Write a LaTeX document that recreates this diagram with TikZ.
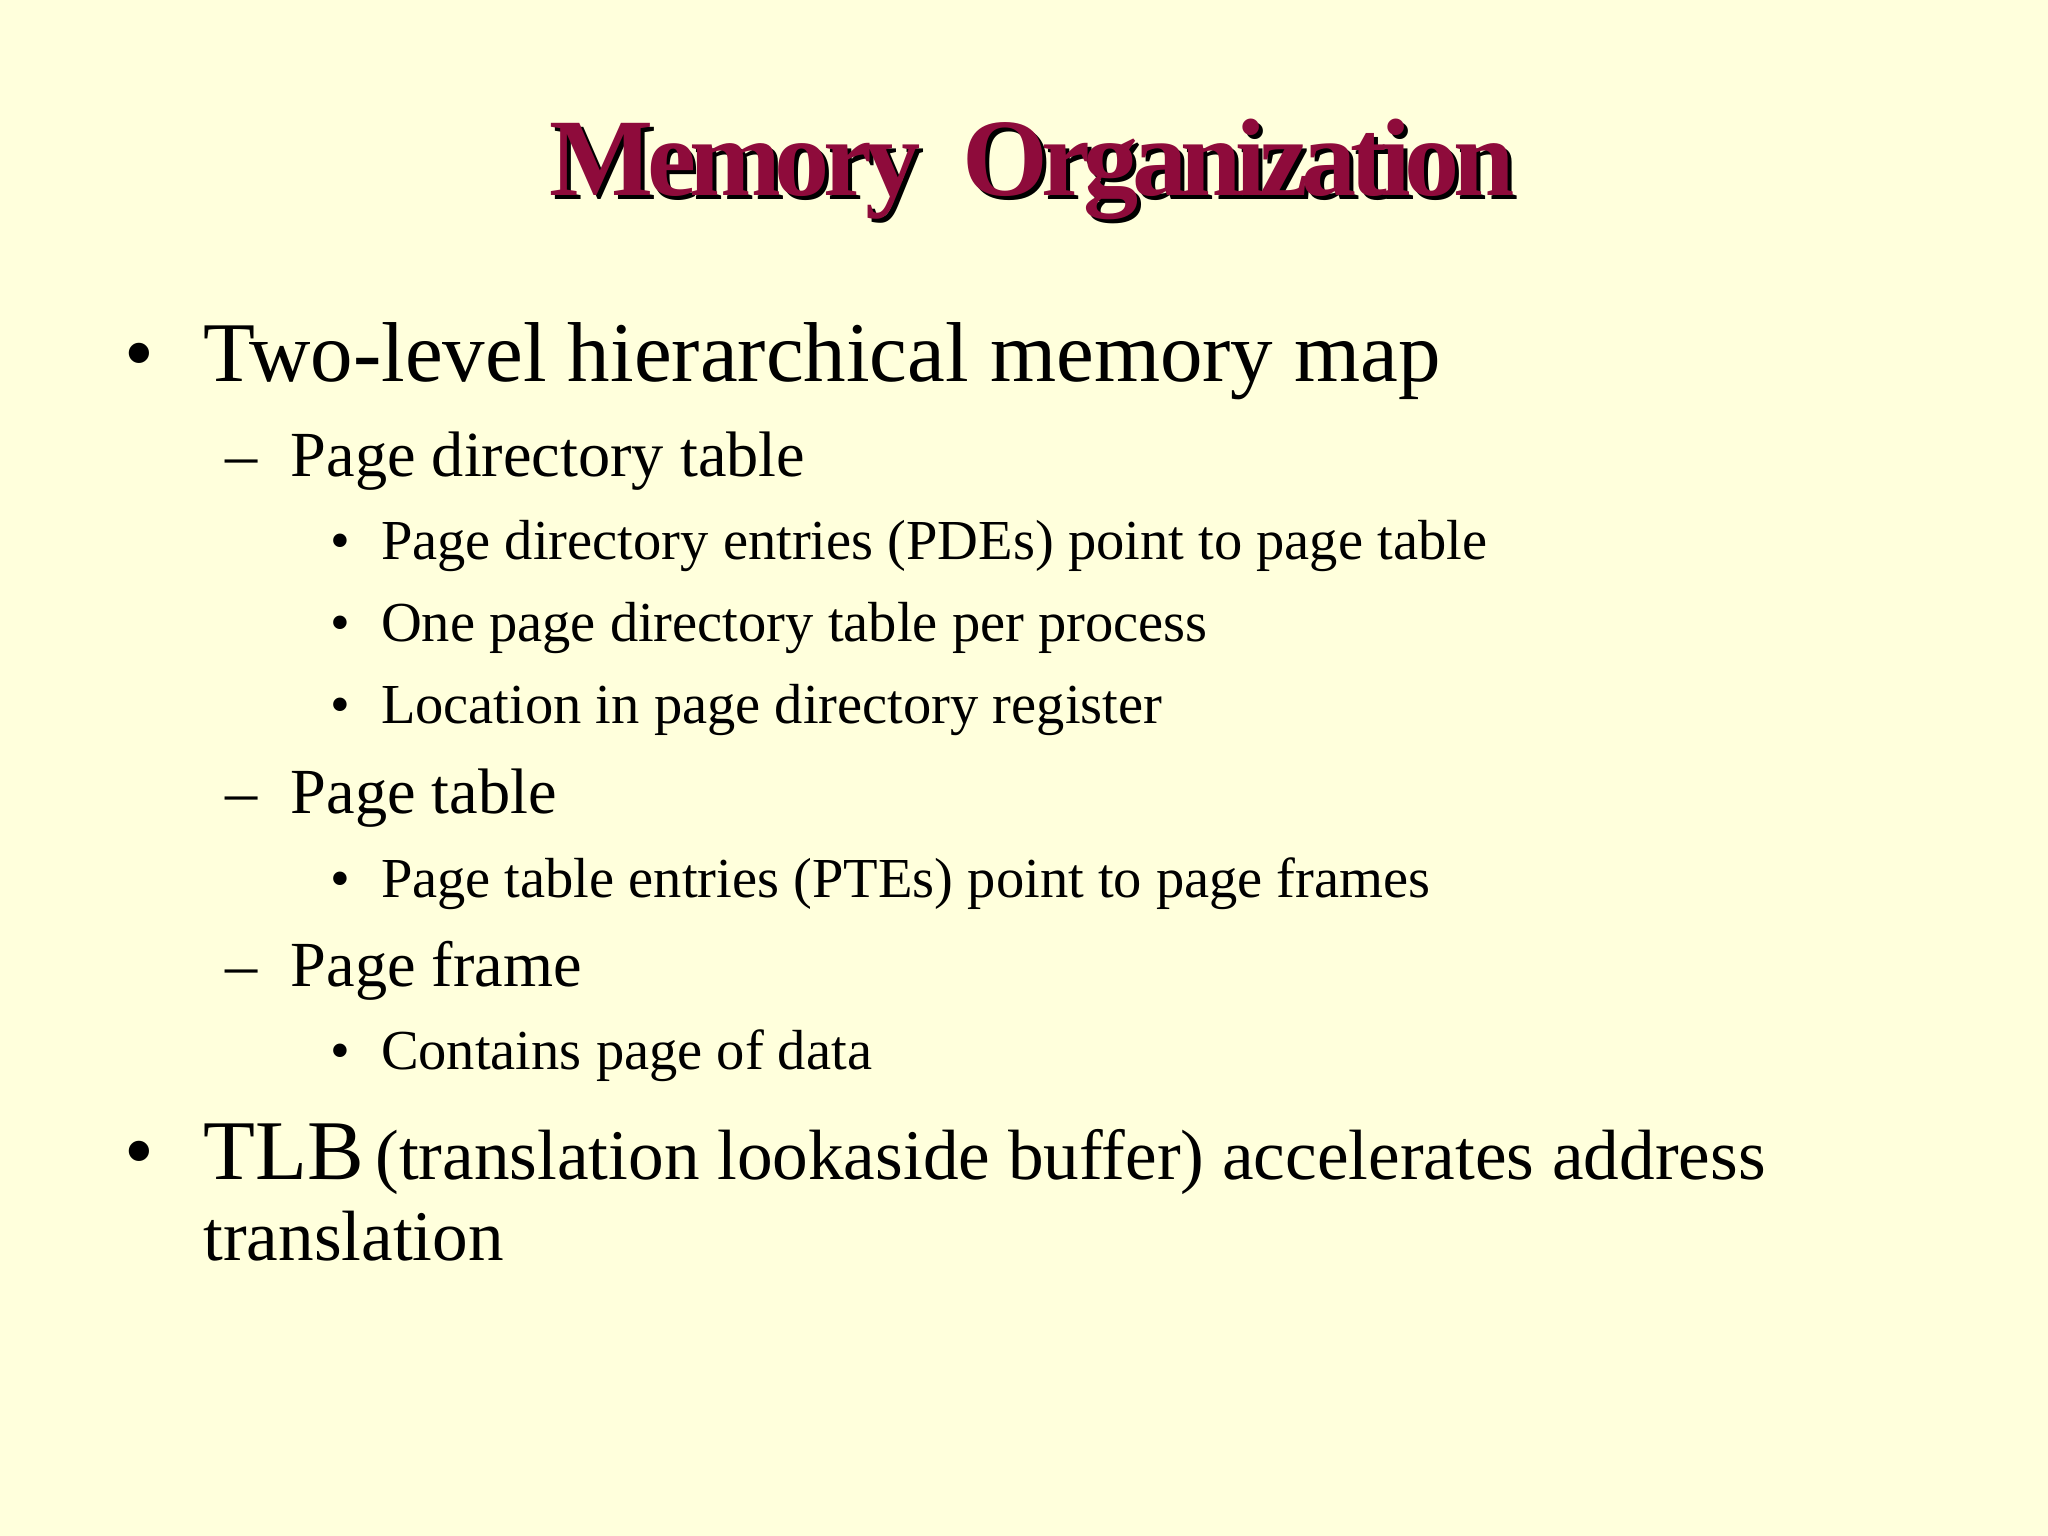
\documentclass[tikz,border=0pt]{standalone}
\usepackage{fontspec}
\setmainfont{Liberation Serif}
\definecolor{bg}{HTML}{FFFFDC}
\definecolor{ttl}{HTML}{8E0B3B}
\tikzset{
 t/.style={anchor=base west,inner sep=0pt,text=black},
 la/.style={t,font=\fontsize{18.5pt}{22pt}\selectfont},
 lb/.style={t,font=\fontsize{14pt}{17pt}\selectfont},
 lc/.style={t,font=\fontsize{12.3pt}{15pt}\selectfont},
}
\begin{document}
\begin{tikzpicture}[x=0.01cm,y=-0.01cm]
\fill[bg] (0,0) rectangle (1568,1176);
\node[t,anchor=base,font=\fontsize{24pt}{28pt}\selectfont\bfseries,text=black] (sh) at (793,153) {\addfontfeature{LetterSpace=-6}Memory\ \ Organization};
\node[t,anchor=base,font=\fontsize{24pt}{28pt}\selectfont\bfseries,text=ttl] (title) at (790,150) {\addfontfeature{LetterSpace=-6}Memory\ \ Organization};
\node[la] (b1) at (95,292) {•};
\node[la] (l1) at (155,292) {Two-level hierarchical memory map};
\node[lb] (d1) at (172,365) {–};
\node[lb] (l2) at (222,365) {Page directory table};
\node[lc] (c1) at (252,428) {•};
\node[lc] (l3) at (291,428) {Page directory entries (PDEs) point to page table};
\node[lc] (c2) at (252,491) {•};
\node[lc] (l4) at (291,491) {One page directory table per process};
\node[lc] (c3) at (252,554) {•};
\node[lc] (l5) at (291,554) {Location in page directory register};
\node[lb] (d2) at (172,623) {–};
\node[lb] (l6) at (222,623) {Page table};
\node[lc] (c4) at (252,687) {•};
\node[lc] (l7) at (291,687) {Page table entries (PTEs) point to page frames};
\node[lb] (d3) at (172,755) {–};
\node[lb] (l8) at (222,755) {Page frame};
\node[lc] (c5) at (252,819) {•};
\node[lc] (l9) at (291,819) {Contains page of data};
\node[la] (b2) at (95,903) {•};
\node[t] (l10) at (155,903) {{\fontsize{18.5pt}{22pt}\selectfont TLB} {\fontsize{15.5pt}{19pt}\selectfont(translation lookaside buffer) accelerates address}};
\node[t,font=\fontsize{15.5pt}{19pt}\selectfont] (l11) at (155,965) {translation};
\end{tikzpicture}
\end{document}
